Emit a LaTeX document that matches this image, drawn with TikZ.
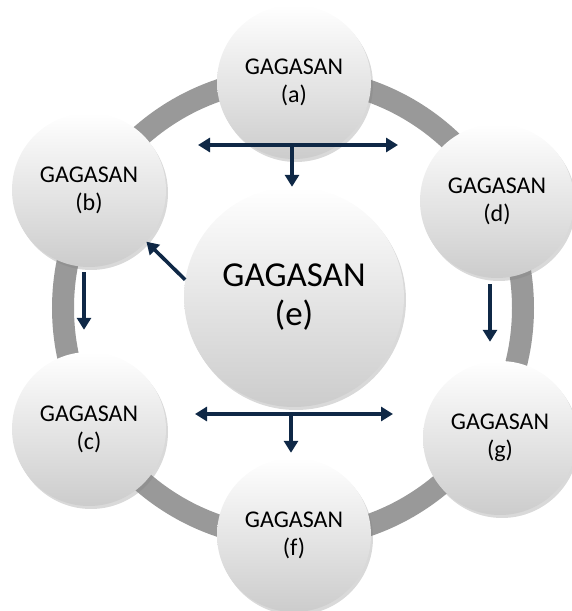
\documentclass[tikz,border=0pt]{standalone}
\usepackage{fontspec}
\setmainfont{Carlito}
\usepackage{tikz}
\usetikzlibrary{positioning}
\usetikzlibrary{shadows}
\usetikzlibrary{arrows.meta}
\definecolor{navy}{HTML}{0F2846}
\tikzset{>={Triangle[length=12pt,width=14pt]}}
\tikzset{idea/.style={circle,inner sep=0pt,minimum size=154pt,top color=white,bottom color=black!20,
  drop shadow={shadow xshift=2pt,shadow yshift=-3pt,opacity=0.3},align=center,font=\fontsize{24}{28}\selectfont}}
\tikzset{flow/.style={->,line width=3.6pt,draw=navy}}

\begin{document}
\begin{tikzpicture}[x=1pt,y=1pt]
\useasboundingbox (0,0) rectangle (572,611);
\draw [line width=22pt,black!40] (293,303) circle [radius=230pt];

\node[idea] (a) at (294,529){GAGASAN\\(a)};
\node[idea] (b) at (89,421){GAGASAN\\(b)};
\node[idea] (d) at (497,410){GAGASAN\\(d)};
\node[idea] (c) at (89,182){GAGASAN\\(c)};
\node[idea] (g) at (500,173){GAGASAN\\(g)};
\node[idea] (f) at (294,76){GAGASAN\\(f)};
\node[idea,minimum size=220pt,font=\fontsize{35}{39}\selectfont] (e) at (294,314){GAGASAN\\(e)};

% top split
\coordinate (aT) at (292,466);
\coordinate (aL) at (198,466);
\coordinate (aR) at (398,466);
\draw[flow,<->] (aL) -- (aR);
\draw[flow] (aT) -- ([xshift=-2pt]e.north);

% bottom split
\coordinate (fT) at (291,197);
\coordinate (fL) at (195,197);
\coordinate (fR) at (393,197);
\draw[flow,<->] (fL) -- (fR);
\draw[flow,shorten >=5pt] (fT) -- ([xshift=-3pt]f.north);

\draw[flow] ([xshift=-5pt,yshift=-5pt]b.south) -- ([xshift=-5pt,yshift=22pt]c.north);
\draw[flow] (e.171) -- (b.-42);
\draw[flow] ([xshift=-7pt,yshift=-6pt]d.south) -- ([xshift=-10pt,yshift=19pt]g.north);
\end{tikzpicture}
\end{document}
